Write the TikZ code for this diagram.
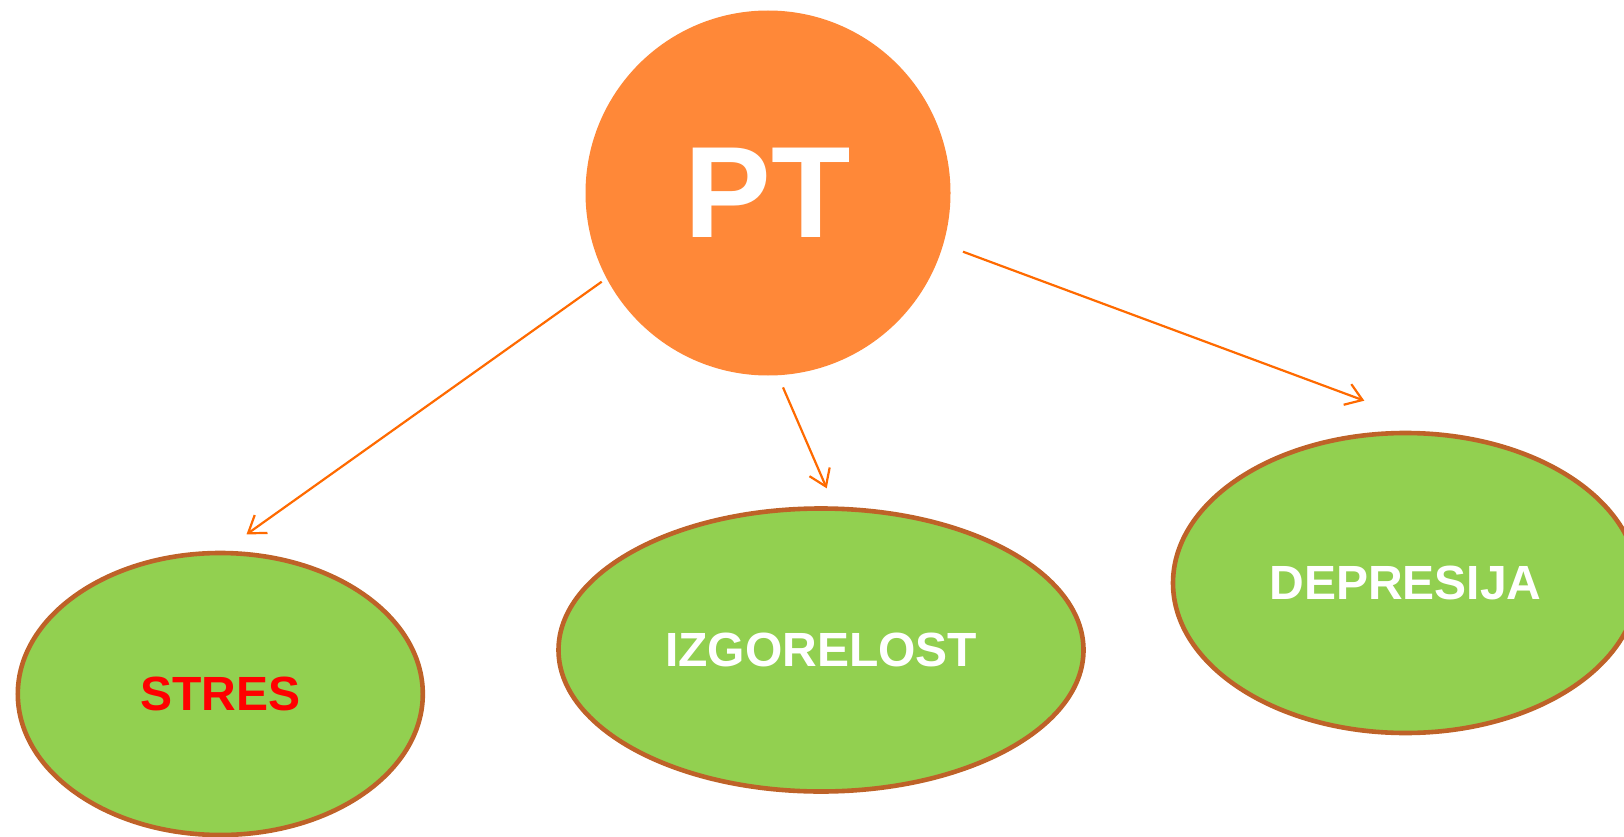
\documentclass[tikz,border=0pt]{standalone}
\usepackage{fontspec}
\setmainfont{Liberation Sans}
\usetikzlibrary{shapes.geometric,arrows.meta}
\definecolor{ptorange}{HTML}{FF8838}
\definecolor{leaf}{HTML}{92D050}
\definecolor{rim}{HTML}{BE6228}
\definecolor{arrowc}{HTML}{FF6A00}
\begin{document}
\begin{tikzpicture}[x=1pt,y=-1pt,
  bubble/.style={ellipse,fill=leaf,draw=rim,line width=4.6pt,inner sep=0pt,
    font=\fontsize{48}{48}\selectfont\bfseries},
  link/.style={draw=arrowc,line width=2.2pt,-{Straight Barb[length=16pt,width=22pt,line width=2.2pt]}}]
\useasboundingbox (0,0) rectangle (1624,837);
\node[circle,fill=ptorange,minimum size=365pt,inner sep=0pt,text=white,
  font=\fontsize{130}{130}\selectfont\bfseries] (pt) at (768,193) {PT};
\node[bubble,minimum width=405pt,minimum height=282pt,text=red] (stres) at (220.3,694) {STRES};
\node[bubble,minimum width=525pt,minimum height=283pt,text=white] (izg) at (821,650) {IZGORELOST};
\node[bubble,minimum width=465pt,minimum height=300pt,text=white] (dep) at (1405.5,583) {DEPRESIJA};
\coordinate (s1) at (601.7,281.7);
\coordinate (e1) at (246.5,534.4);
\coordinate (s2) at (783,387.4);
\coordinate (e2) at (826.7,488.3);
\coordinate (s3) at (963,251.7);
\coordinate (e3) at (1364.3,400.7);
\draw[link] (s1) -- (e1);
\draw[link] (s2) -- (e2);
\draw[link] (s3) -- (e3);
\end{tikzpicture}
\end{document}
